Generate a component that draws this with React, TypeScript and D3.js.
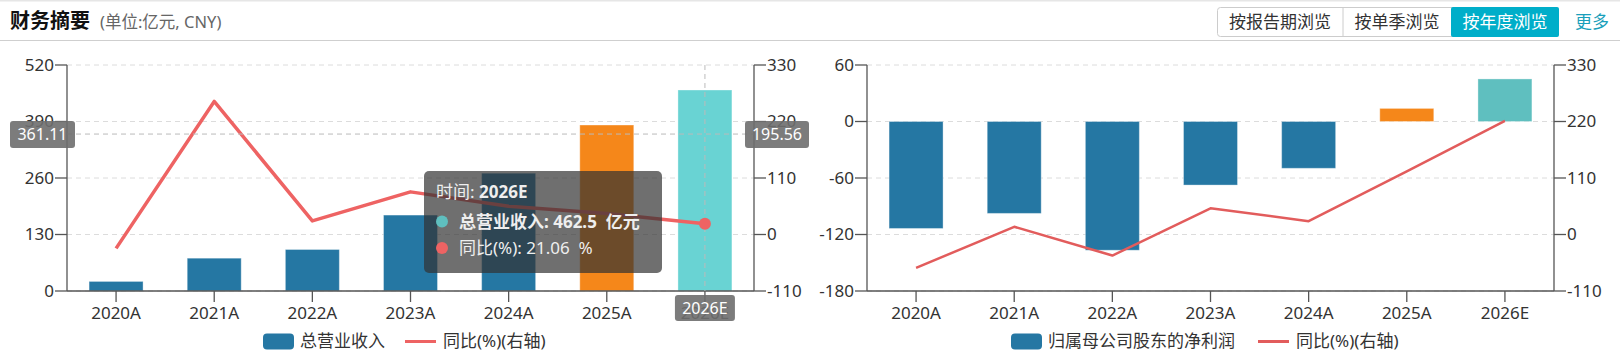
import React from "react";
import * as d3 from "d3";

const categories = ["2020A", "2021A", "2022A", "2023A", "2024A", "2025A", "2026E"];
const revenue = [22, 75.5, 95.5, 174.7, 271, 381.9, 462.5];
const revenueYoY = [-27, 259, 26.5, 83, 55, 41, 21.06];
const netProfit = [-113.6, -97.6, -136.7, -67.5, -49.7, 13.9, 45.2];
const netProfitYoY = [-65, 15, -41, 51, 26, 123, 221];
const leftTicksA = [0, 130, 260, 390, 520];
const leftTicksB = [-180, -120, -60, 0, 60];
const rightTicks = [-110, 0, 110, 220, 330];
const buttons = ["按报告期浏览", "按单季浏览", "按年度浏览"];

const FONT = "'Noto Sans','Noto Sans CJK SC',sans-serif";
const BLUE = "#2577a3";
const ORANGE = "#f5871a";
const TEAL = "#5fbfbf";
const TEAL_HI = "#69d3d3";
const RED = "#ee6363";
const AXIS = "#555";
const GRID = "#dcdcdc";
const TXT = "#333";
const NB = "\u00a0\u00a0";

const TOP = 65;
const BOTTOM = 291;

function barColor(i: number, hi: boolean) {
  if (i === 6) return hi ? TEAL_HI : TEAL;
  if (i === 5) return ORANGE;
  return BLUE;
}

type PanelProps = {
  x0: number;
  x1: number;
  leftTicks: number[];
  leftDomain: [number, number];
  bars: number[];
  line: number[];
  lineWidth: number;
  lineColor: string;
  legendName: string;
  legendRectX: number;
  legendLineX: number;
  hover: boolean;
};

function Panel(p: PanelProps) {
  const x = d3.scaleBand<string>().domain(categories).range([p.x0, p.x1]).padding(0);
  const bw = x.bandwidth() * 0.55;
  const yL = d3.scaleLinear().domain(p.leftDomain).range([BOTTOM, TOP]);
  const yR = d3.scaleLinear().domain([-110, 330]).range([BOTTOM, TOP]);
  const cx = (c: string) => (x(c) as number) + x.bandwidth() / 2;
  const lineGen = d3
    .line<number>()
    .x((_, i) => cx(categories[i]))
    .y((d) => yR(d));
  const zero = yL(0);

  const lr = p.legendRectX;
  const lineX = p.legendLineX;

  return (
    <g>
      {p.leftTicks.map((t) => (
        <line
          key={"g" + t}
          x1={p.x0}
          x2={p.x1}
          y1={yL(t)}
          y2={yL(t)}
          stroke={GRID}
          strokeWidth={1}
          strokeDasharray="5,4"
        />
      ))}
      {p.bars.map((v, i) => {
        const c = categories[i];
        const y0 = Math.min(yL(v), zero);
        const h = Math.abs(yL(v) - zero);
        return (
          <rect
            key={"b" + i}
            x={cx(c) - bw / 2}
            y={y0}
            width={bw}
            height={h}
            fill={barColor(i, p.hover)}
            stroke="rgba(255,255,255,0.35)"
            strokeWidth={1}
          />
        );
      })}
      <path d={lineGen(p.line) || ""} fill="none" stroke={p.lineColor} strokeWidth={p.lineWidth} strokeLinejoin="round" />
      <line x1={p.x0} x2={p.x0} y1={TOP} y2={BOTTOM} stroke={AXIS} strokeWidth={1.3} />
      <line x1={p.x1} x2={p.x1} y1={TOP} y2={BOTTOM} stroke={AXIS} strokeWidth={1.3} />
      <line x1={p.x0} x2={p.x1} y1={BOTTOM} y2={BOTTOM} stroke={AXIS} strokeWidth={1.3} />
      {p.leftTicks.map((t) => (
        <g key={"l" + t}>
          <line x1={p.x0 - 12} x2={p.x0} y1={yL(t)} y2={yL(t)} stroke={AXIS} strokeWidth={1.3} />
          <text x={p.x0 - 13} y={yL(t)} dy="0.35em" textAnchor="end" fontSize={17} fill={TXT} fontFamily={FONT}>
            {t}
          </text>
        </g>
      ))}
      {rightTicks.map((t) => (
        <g key={"r" + t}>
          <line x1={p.x1} x2={p.x1 + 12} y1={yR(t)} y2={yR(t)} stroke={AXIS} strokeWidth={1.3} />
          <text x={p.x1 + 13} y={yR(t)} dy="0.35em" textAnchor="start" fontSize={17} fill={TXT} fontFamily={FONT}>
            {t}
          </text>
        </g>
      ))}
      {categories.map((c) => (
        <g key={"x" + c}>
          <line x1={cx(c)} x2={cx(c)} y1={BOTTOM} y2={BOTTOM + 11} stroke={AXIS} strokeWidth={1.3} />
          <text x={cx(c)} y={319} textAnchor="middle" fontSize={17} fill={TXT} fontFamily={FONT}>
            {c}
          </text>
        </g>
      ))}
      <rect x={lr} y={333.5} width={31} height={16} rx={4} fill={BLUE} />
      <text x={lr + 37} y={347} fontSize={17} fill={TXT} fontFamily={FONT}>
        {p.legendName}
      </text>
      <line x1={lineX} x2={lineX + 31} y1={341.5} y2={341.5} stroke={p.lineColor} strokeWidth={3} />
      <text x={lineX + 38} y={347} fontSize={17} fill={TXT} fontFamily={FONT}>
        同比(%)(右轴)
      </text>
      {p.hover && (
        <g>
          <line x1={cx("2026E")} x2={cx("2026E")} y1={TOP} y2={BOTTOM} stroke="#bbb" strokeDasharray="5,4" />
          <line x1={p.x0} x2={p.x1} y1={yL(361.11)} y2={yL(361.11)} stroke="#bbb" strokeDasharray="5,4" />
          <circle cx={cx("2026E")} cy={yR(21.06)} r={6} fill={RED} />
          <rect x={10} y={121} width={65} height={27} rx={3} fill="rgba(110,110,110,0.9)" />
          <text x={42.5} y={134.5} dy="0.35em" textAnchor="middle" fontSize={16} fill="#fff" fontFamily={FONT}>
            361.11
          </text>
          <rect x={745} y={121} width={64} height={27} rx={3} fill="rgba(110,110,110,0.9)" />
          <text x={777} y={134.5} dy="0.35em" textAnchor="middle" fontSize={16} fill="#fff" fontFamily={FONT}>
            195.56
          </text>
          <rect x={cx("2026E") - 30} y={295} width={60} height={26} rx={3} fill="rgba(110,110,110,0.9)" />
          <text x={cx("2026E")} y={308} dy="0.35em" textAnchor="middle" fontSize={16} fill="#fff" fontFamily={FONT}>
            2026E
          </text>
          <rect x={424} y={171} width={238} height={102} rx={5} fill="rgba(50,50,50,0.7)" />
          <text x={436} y={198} fontSize={17} fill="#eee" fontFamily={FONT}>
            时间: <tspan fontWeight="bold">2026E</tspan>
          </text>
          <circle cx={442} cy={221.5} r={6} fill={TEAL} />
          <text x={459} y={227.5} fontSize={17} fontWeight="bold" fill="#eee" fontFamily={FONT}>
            {"总营业收入: 462.5" + NB + "亿元"}
          </text>
          <circle cx={442} cy={248} r={6} fill={RED} />
          <text x={459} y={254} fontSize={17} fill="#eee" fontFamily={FONT}>
            {"同比(%): 21.06" + NB + "%"}
          </text>
        </g>
      )}
    </g>
  );
}

export default function App() {
  const segs = [1217, 1343, 1451, 1559];
  return (
    <svg
      width={1620}
      height={353}
      style={{ position: "absolute", left: 0, top: 0, background: "#fff" }}
      fontFamily={FONT}
    >
      <rect x={0} y={0} width={1620} height={353} fill="#fff" />
      <line x1={0} x2={1620} y1={0.5} y2={0.5} stroke="#e6e6e6" strokeWidth={2} />
      <line x1={0} x2={1620} y1={40.5} y2={40.5} stroke="#cfcfcf" strokeWidth={1} />
      <text x={10} y={28} fontSize={20} fontWeight="bold" fill="#111">
        财务摘要
      </text>
      <text x={100} y={28} fontSize={16.5} fill="#666">
        (单位:亿元, CNY)
      </text>
      <rect x={1217.5} y={7.5} width={341} height={29} rx={3} fill="#fff" stroke="#ccc" />
      <rect x={1451} y={7} width={108} height={30} rx={2} fill="#00aec9" />
      <line x1={1343} x2={1343} y1={8} y2={36} stroke="#ccc" />
      {buttons.map((b, i) => (
        <text
          key={b}
          x={(segs[i] + segs[i + 1]) / 2}
          y={28}
          textAnchor="middle"
          fontSize={17}
          fill={i === 2 ? "#fff" : "#333"}
        >
          {b}
        </text>
      ))}
      <text x={1575} y={28} fontSize={17} fill="#1a9fbb">
        更多
      </text>
      <Panel
        x0={67}
        x1={754}
        leftTicks={leftTicksA}
        leftDomain={[0, 520]}
        bars={revenue}
        line={revenueYoY}
        lineWidth={3.5}
        lineColor={RED}
        legendName="总营业收入"
        legendRectX={263}
        legendLineX={405}
        hover={true}
      />
      <Panel
        x0={867}
        x1={1554}
        leftTicks={leftTicksB}
        leftDomain={[-180, 60]}
        bars={netProfit}
        line={netProfitYoY}
        lineWidth={2.5}
        lineColor="#e25c5c"
        legendName="归属母公司股东的净利润"
        legendRectX={1011}
        legendLineX={1258}
        hover={false}
      />
    </svg>
  );
}
